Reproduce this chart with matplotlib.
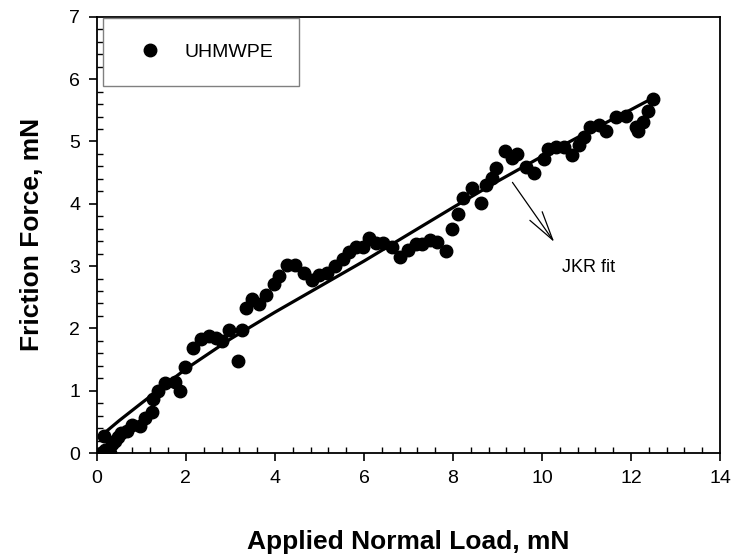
import matplotlib
matplotlib.use("Agg")
import matplotlib.pyplot as plt
from matplotlib.ticker import MultipleLocator

plt.rcParams['font.family'] = ['Liberation Sans', 'DejaVu Sans']

# measured points (UHMWPE)
load = [0.10, 0.15, 0.18, 0.25, 0.29, 0.33, 0.40, 0.47, 0.55, 0.67,
        0.79, 0.96, 1.08, 1.23, 1.26, 1.37, 1.52, 1.75, 1.86, 1.97,
        2.17, 2.35, 2.51, 2.67, 2.82, 2.96, 3.16, 3.27, 3.36, 3.48,
        3.65, 3.81, 3.97, 4.10, 4.26, 4.44, 4.66, 4.84, 4.98, 5.16,
        5.34, 5.52, 5.67, 5.81, 5.97, 6.12, 6.28, 6.43, 6.64, 6.81,
        6.98, 7.17, 7.31, 7.49, 7.65, 7.85, 7.98, 8.12, 8.23, 8.43,
        8.63, 8.74, 8.88, 8.97, 9.17, 9.33, 9.44, 9.64, 9.82, 10.04,
        10.13, 10.31, 10.49, 10.67, 10.83, 10.94, 11.08, 11.28, 11.43, 11.66,
        11.88, 12.11, 12.15, 12.26, 12.38, 12.49]
friction = [0.00, 0.28, 0.05, 0.02, 0.00, 0.15, 0.20, 0.26, 0.32, 0.36,
            0.45, 0.44, 0.56, 0.66, 0.86, 0.99, 1.12, 1.14, 0.99, 1.38,
            1.68, 1.83, 1.88, 1.84, 1.80, 1.97, 1.48, 1.97, 2.33, 2.47,
            2.39, 2.54, 2.71, 2.84, 3.02, 3.02, 2.89, 2.78, 2.86, 2.89,
            3.00, 3.11, 3.23, 3.31, 3.31, 3.45, 3.37, 3.37, 3.31, 3.15,
            3.26, 3.35, 3.35, 3.42, 3.39, 3.25, 3.60, 3.84, 4.09, 4.25,
            4.01, 4.30, 4.41, 4.57, 4.84, 4.73, 4.80, 4.59, 4.49, 4.72,
            4.88, 4.91, 4.91, 4.78, 4.94, 5.07, 5.23, 5.26, 5.17, 5.39,
            5.41, 5.23, 5.17, 5.31, 5.49, 5.68]

# JKR fit curve
fit_load = [0.1, 0.5, 1, 2, 3, 4, 5, 6, 7, 8, 9, 10, 11, 12, 12.5]
fit_friction = [0.28, 0.52, 0.80, 1.35, 1.83, 2.26, 2.67, 3.08, 3.51,
                3.94, 4.36, 4.76, 5.14, 5.51, 5.70]

fig = plt.figure(figsize=(7.34, 5.6), dpi=100)
ax = fig.add_axes([0.132, 0.191, 0.849, 0.779])

ax.plot(fit_load, fit_friction, color='black', lw=2.3, zorder=2)
ax.plot(load, friction, 'o', color='black', ms=9, label='UHMWPE', zorder=3)

ax.annotate('', xy=(10.31, 3.35), xytext=(9.30, 4.38),
            arrowprops=dict(arrowstyle='->,head_length=0.7,head_width=0.18',
                            color='black', lw=0.9, mutation_scale=30))
ax.text(10.45, 2.97, 'JKR fit', fontsize=13, va='center', ha='left')

ax.set_xlim(0, 14)
ax.set_ylim(0, 7)
ax.xaxis.set_major_locator(MultipleLocator(2))
ax.xaxis.set_minor_locator(MultipleLocator(0.4))
ax.yaxis.set_major_locator(MultipleLocator(1))
ax.yaxis.set_minor_locator(MultipleLocator(0.2))
ax.tick_params(which='major', direction='out', length=6, width=1.2,
               labelsize=14, pad=6)
ax.tick_params(which='minor', direction='in', length=4, width=1.0)
for s in ax.spines.values():
    s.set_linewidth(1.3)

ax.set_xlabel('Applied Normal Load, mN', fontsize=19, fontweight='bold',
              labelpad=31)
ax.set_ylabel('Friction Force, mN', fontsize=19, fontweight='bold',
              labelpad=18)

leg = ax.legend(loc='upper left', bbox_to_anchor=(0.0096, 0.998),
                fontsize=14, frameon=True, fancybox=False, framealpha=1,
                borderpad=1.3, handletextpad=0.7, borderaxespad=0,
                handlelength=2.2)
leg.get_frame().set_edgecolor('gray')
leg.get_frame().set_linewidth(1.0)

fig.savefig('out.png', dpi=100)
